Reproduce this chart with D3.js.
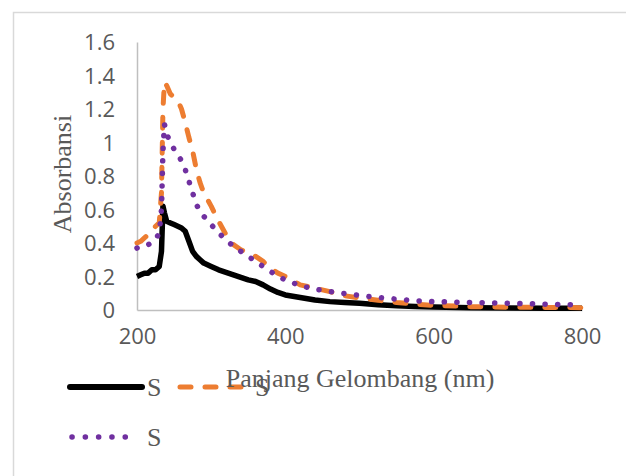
<html>
<script src="https://cdnjs.cloudflare.com/ajax/libs/d3/7.8.5/d3.min.js"></script>
<style>
  body { margin:0; background:#fff; }
  .tick text { font-family:"Open Sans", sans-serif; font-size:22px; fill:#595959; }
  .title { font-family:"Liberation Serif", "Times New Roman", serif; font-size:26px; fill:#595959; }
</style>
<body>
<svg id="plot"></svg>
<script>

// wavelengths (nm)
var wavelengths = [200,205,210,215,220,225,230,233,235,237,240,245,250,255,260,265,270,275,280,285,290,
                   300,310,320,330,340,350,360,370,380,390,400,420,440,460,480,500,525,550,575,600,650,700,750,800];

// absorbance per series
var seriesBlack = [0.2,0.21,0.22,0.22,0.24,0.24,0.26,0.35,0.62,0.58,0.53,0.52,0.51,0.5,0.49,0.47,0.41,0.35,0.32,0.3,0.28,
                   0.26,0.24,0.225,0.21,0.195,0.18,0.17,0.15,0.125,0.105,0.09,0.075,0.06,0.05,0.045,0.04,0.032,0.026,0.021,0.018,0.014,0.012,0.011,0.01];
var seriesOrange = [0.4,0.41,0.43,0.45,0.47,0.5,0.52,0.7,1.2,1.36,1.34,1.29,1.27,1.25,1.2,1.12,1.03,0.95,0.84,0.76,0.7,
                    0.62,0.53,0.45,0.39,0.36,0.34,0.32,0.29,0.25,0.22,0.2,0.15,0.13,0.11,0.085,0.072,0.058,0.045,0.035,0.028,0.02,0.017,0.015,0.014];
var seriesPurple = [0.37,0.38,0.39,0.39,0.4,0.42,0.46,0.6,0.95,1.11,1.05,1.0,0.96,0.93,0.89,0.84,0.77,0.7,0.63,0.59,0.56,
                    0.51,0.46,0.42,0.38,0.35,0.32,0.29,0.26,0.23,0.2,0.18,0.145,0.125,0.11,0.098,0.087,0.075,0.065,0.055,0.05,0.045,0.04,0.035,0.03];

var seriesNames = ["S","S","S"];
var xTicks = [200,400,600,800];
var yTicks = [0,0.2,0.4,0.6,0.8,1,1.2,1.4,1.6];

var screen = {width:626, height:476};
var svg = d3.select("#plot")
    .attr("width",screen.width)
    .attr("height",screen.height);

// chart border (only left + top visible in the crop)
svg.append("rect")
    .attr("x",13.5).attr("y",12.5)
    .attr("width",640).attr("height",480)
    .attr("fill","none")
    .attr("stroke","#d9d9d9")
    .attr("stroke-width",1.5);

var xScale = d3.scaleLinear().domain([200,800]).range([137,582]);
var yScale = d3.scaleLinear().domain([0,1.6]).range([310,42]);

// axes
var yAxis = d3.axisLeft(yScale).tickValues(yTicks).tickSize(0).tickPadding(22)
    .tickFormat(function(d){ return String(+d.toFixed(1)); });
var gy = svg.append("g").attr("transform","translate(137,0)").call(yAxis);
gy.select(".domain").attr("stroke","#bfbfbf").attr("stroke-width",1.5);
gy.selectAll(".tick text").attr("dy","0.36em");

var xAxis = d3.axisBottom(xScale).tickValues(xTicks).tickSize(0).tickPadding(18);
var gx = svg.append("g").attr("transform","translate(0,310)").call(xAxis);
gx.select(".domain").attr("stroke","#bfbfbf").attr("stroke-width",1.5);

// lines
var styles = [
    {color:"#000000", width:5.5, dash:null, cap:"butt"},
    {color:"#ed7d31", width:5, dash:"11,14", cap:"round"},
    {color:"#7030a0", width:5.5, dash:"0.1,12.5", cap:"round"}
];
var allSeries = [seriesBlack, seriesOrange, seriesPurple];

var lineGenerator = d3.line()
    .x(function(d,i){ return xScale(wavelengths[i]); })
    .y(function(d){ return yScale(d); });

allSeries.forEach(function(vals,k){
    var s = styles[k];
    svg.append("path")
        .datum(vals)
        .attr("d",lineGenerator)
        .attr("fill","none")
        .attr("stroke",s.color)
        .attr("stroke-width",s.width)
        .attr("stroke-linecap",s.cap)
        .attr("stroke-linejoin","round")
        .attr("stroke-dasharray",s.dash);
});

// axis titles
svg.append("text").classed("title",true)
    .attr("text-anchor","middle")
    .attr("transform","translate(71,174) rotate(-90)")
    .text("Absorbansi");

// legend (drawn before the x title so the title sits over it)
var legendPos = [{x:70,y:387},{x:180,y:387},{x:70,y:437}];
legendPos.forEach(function(p,k){
    var s = styles[k];
    svg.append("line")
        .attr("x1",p.x+(k==2?2:0)).attr("x2",p.x+(k==0?72:67))
        .attr("y1",p.y).attr("y2",p.y)
        .attr("stroke",s.color)
        .attr("stroke-width",s.width+ (k==0?0.5:0))
        .attr("stroke-linecap","round")
        .attr("stroke-dasharray",k==1?"11,14":(k==2?"0.1,13.2":null));
    svg.append("text").classed("title",true)
        .attr("x",p.x+(k==1?75:77)).attr("y",p.y+9)
        .text(seriesNames[k]);
});

svg.append("text").classed("title",true)
    .attr("text-anchor","middle")
    .attr("x",360).attr("y",387)
    .text("Panjang Gelombang (nm)");

</script>
</body>
</html>
